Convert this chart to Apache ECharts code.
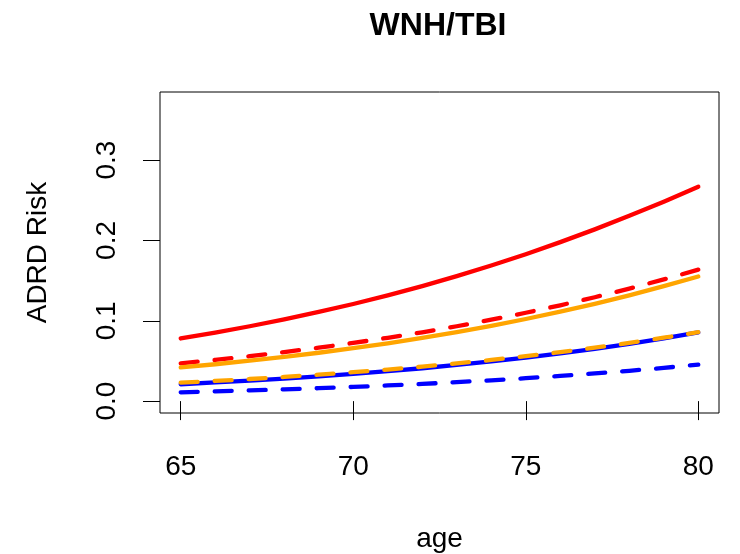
<!DOCTYPE html>
<html>
<head>
<meta charset="utf-8">
<script src="https://cdn.jsdelivr.net/npm/echarts@6/dist/echarts.min.js"></script>
<style>html,body{margin:0;padding:0;background:#fff;}#c{width:740px;height:554px;}</style>
</head>
<body>
<div id="c"></div>
<script>
var ages = [65,66,67,68,69,70,71,72,73,74,75,76,77,78,79,80];
var redSolid    = [0.0780,0.0853,0.0932,0.1017,0.1110,0.1209,0.1317,0.1432,0.1556,0.1688,0.1829,0.1979,0.2138,0.2306,0.2483,0.2669];
var redDashed   = [0.0470,0.0513,0.0559,0.0610,0.0665,0.0724,0.0788,0.0857,0.0932,0.1013,0.1100,0.1193,0.1293,0.1400,0.1515,0.1636];
var orangeSolid = [0.0419,0.0459,0.0503,0.0550,0.0602,0.0659,0.0720,0.0787,0.0859,0.0937,0.1022,0.1113,0.1211,0.1317,0.1431,0.1551];
var orangeDashed= [0.0230,0.0251,0.0275,0.0301,0.0329,0.0360,0.0393,0.0429,0.0469,0.0512,0.0559,0.0609,0.0665,0.0724,0.0789,0.0858];
var blueSolid   = [0.0210,0.0232,0.0255,0.0280,0.0308,0.0339,0.0373,0.0409,0.0450,0.0494,0.0542,0.0594,0.0651,0.0714,0.0781,0.0855];
var blueDashed  = [0.0110,0.0121,0.0133,0.0146,0.0161,0.0177,0.0195,0.0214,0.0236,0.0259,0.0285,0.0313,0.0344,0.0377,0.0414,0.0454];
var xTicks = [65,70,75,80];
var yTicks = [0,0.1,0.2,0.3];

function pairs(vals){ return ages.map(function(a,i){ return [a, vals[i]]; }); }
var FONT = '"Liberation Sans", Arial, sans-serif';
function line(name, vals, color, dashed){
  return {
    name: name, type: 'line', data: pairs(vals), showSymbol: false, symbol: 'none',
    animation: false, silent: true,
    lineStyle: { color: color, width: 4.3, type: dashed ? [17,17] : 'solid', cap: 'round', join: 'round' }
  };
}
var chart = echarts.init(document.getElementById('c'), null, {renderer: 'canvas'});
chart.setOption({
  animation: false,
  backgroundColor: '#fff',
  title: {
    text: 'WNH/TBI', left: 433, top: 5, textAlign: 'center',
    textStyle: { fontFamily: FONT, fontSize: 32, fontWeight: 'bold', color: '#000' }
  },
  grid: { left: 160, right: 21, top: 92, bottom: 141, show: true, borderColor: '#000', borderWidth: 1,
    backgroundColor: 'transparent', containLabel: false, outerBoundsMode: 'none' },
  xAxis: {
    type: 'value', min: 64.4, max: 80.6,
    name: 'age', nameLocation: 'middle', nameGap: 112,
    nameTextStyle: { fontFamily: FONT, fontSize: 28, color: '#000' },
    axisLine: { show: false },
    axisTick: { show: true, inside: false, length: 19, customValues: xTicks, lineStyle: { color: '#000', width: 1 } },
    axisLabel: { customValues: xTicks, margin: 40, fontFamily: FONT, fontSize: 28, color: '#000' },
    splitLine: { show: false }
  },
  yAxis: {
    type: 'value', min: -0.0148, max: 0.3848,
    name: 'ADRD Risk', nameLocation: 'middle', nameGap: 108, nameRotate: 90,
    nameTextStyle: { fontFamily: FONT, fontSize: 28, color: '#000' },
    axisLine: { show: false },
    axisTick: { show: true, inside: false, length: 17, customValues: yTicks, lineStyle: { color: '#000', width: 1 } },
    axisLabel: { customValues: yTicks, rotate: 90, margin: 39, fontFamily: FONT, fontSize: 28, color: '#000',
      formatter: function(v){ return v.toFixed(1); } },
    splitLine: { show: false }
  },
  series: [
    line('red solid', redSolid, '#FF0000', false),
    line('red dashed', redDashed, '#FF0000', true),
    line('orange solid', orangeSolid, '#FFA500', false),
    line('blue solid', blueSolid, '#0000FF', false),
    line('orange dashed', orangeDashed, '#FFA500', true),
    line('blue dashed', blueDashed, '#0000FF', true)
  ]
});
</script>
</body>
</html>
